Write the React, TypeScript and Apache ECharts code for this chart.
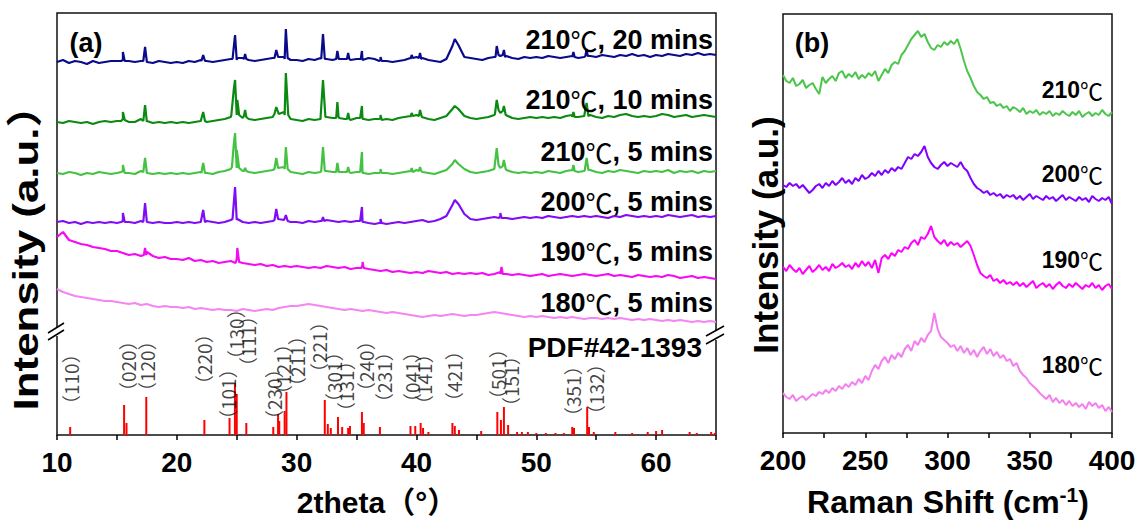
import React, { useEffect, useRef } from "react";
import * as echarts from "echarts";

const FONT = "'Liberation Sans', Arial, 'Noto Sans CJK SC', sans-serif";
const CJK = "'Noto Sans CJK SC', sans-serif";

// ---------- XRD (panel a) : sampled every 0.5 deg from 10 to 65, plus sharp peak points ----------
const twoThetaStart = 10;
const twoThetaStep = 0.5;

const xrd210m20Base = [
  373, 375, 372, 374, 373, 371, 374, 372, 373, 374,
  374, 375, 374, 373, 374, 373, 372, 374, 373, 372,
  373, 372, 374, 373, 375, 374, 373, 374, 375, 376,
  375, 377, 375, 374, 375, 376, 377, 378, 376, 375,
  375, 374, 376, 375, 377, 376, 375, 377, 376, 375,
  376, 375, 377, 376, 375, 374, 373, 374, 375, 377,
  378, 377, 375, 374, 373, 376, 389, 390, 378, 377,
  376, 375, 377, 378, 379, 379, 377, 376, 378, 377,
  378, 377, 379, 378, 377, 378, 379, 377, 378, 379,
  378, 380, 379, 378, 380, 379, 381, 379, 380, 378,
  380, 379, 381, 380, 379, 381, 380, 382, 380, 381,
  380,
];
const xrd210m20Peaks = [
  [15.35, 374], [15.5, 383], [15.65, 374],
  [17.2, 374], [17.35, 388], [17.5, 373],
  [22.05, 374], [22.2, 380], [22.35, 374],
  [24.65, 376], [24.86, 400], [25.05, 377],
  [25.6, 376], [25.7, 381], [25.8, 376],
  [28.15, 377], [28.3, 385], [28.45, 378],
  [28.95, 378], [29.1, 406], [29.25, 377],
  [32.05, 376], [32.2, 401], [32.35, 376],
  [33.3, 376], [33.4, 384], [33.5, 376],
  [34.2, 376], [34.3, 382], [34.4, 376],
  [35.35, 376], [35.45, 384], [35.55, 375],
  [36.9, 374], [37.0, 378], [37.1, 374],
  [39.5, 376], [39.6, 380], [39.7, 377],
  [40.2, 377], [40.3, 382], [40.4, 376],
  [43.2, 396],
  [46.6, 378], [46.7, 389], [46.85, 380],
  [47.2, 380], [47.3, 385], [47.4, 378],
  [53.0, 378], [53.1, 383], [53.2, 378],
  [54.1, 379], [54.2, 386], [54.3, 379],
];

const xrd210m10Base = [
  313, 312, 314, 313, 312, 313, 311, 313, 314, 313,
  314, 316, 313, 313, 316, 313, 312, 313, 312, 313,
  312, 313, 312, 313, 314, 313, 314, 315, 316, 318,
  320, 317, 316, 315, 316, 317, 318, 321, 320, 316,
  315, 314, 316, 315, 316, 318, 317, 318, 316, 315,
  317, 316, 315, 316, 317, 316, 315, 317, 318, 319,
  320, 318, 316, 315, 317, 319, 326, 326, 319, 317,
  316, 317, 318, 320, 322, 320, 317, 316, 317, 318,
  317, 318, 317, 318, 317, 319, 320, 318, 319, 320,
  318, 317, 319, 318, 320, 321, 319, 318, 319, 318,
  319, 321, 320, 318, 319, 320, 318, 319, 320, 319,
  318,
];
const xrd210m10Peaks = [
  [15.35, 314], [15.5, 323], [15.65, 315],
  [17.2, 314], [17.35, 330], [17.5, 314],
  [22.05, 314], [22.2, 323], [22.35, 314],
  [24.55, 320], [24.75, 345], [24.86, 355], [25.05, 335], [25.2, 320],
  [25.6, 319], [25.7, 325], [25.8, 318],
  [28.15, 321], [28.3, 328], [28.45, 323],
  [28.95, 323], [29.1, 362], [29.3, 320],
  [32.0, 318], [32.2, 355], [32.4, 318],
  [33.3, 317], [33.4, 333], [33.55, 317],
  [34.2, 316], [34.3, 322], [34.4, 316],
  [35.3, 317], [35.45, 329], [35.6, 316],
  [36.9, 316], [37.0, 320], [37.1, 315],
  [39.5, 318], [39.6, 322], [39.7, 319],
  [40.2, 319], [40.3, 325], [40.45, 318],
  [43.2, 329],
  [46.55, 321], [46.7, 335], [46.85, 325],
  [47.2, 324], [47.3, 329], [47.45, 320],
  [53.0, 318], [53.1, 323], [53.2, 318],
  [54.05, 319], [54.2, 332], [54.35, 319],
];

const xrd210m5Base = [
  262, 261, 263, 262, 260, 262, 261, 263, 262, 261,
  262, 264, 262, 261, 264, 262, 261, 262, 261, 262,
  261, 262, 261, 262, 263, 262, 261, 263, 264, 266,
  267, 264, 263, 262, 263, 264, 265, 267, 266, 263,
  262, 261, 263, 262, 263, 264, 263, 265, 263, 262,
  263, 262, 261, 262, 263, 262, 261, 262, 263, 264,
  265, 263, 262, 261, 263, 265, 271, 271, 266, 263,
  262, 263, 264, 266, 267, 265, 263, 262, 263, 262,
  263, 262, 264, 263, 262, 264, 265, 263, 264, 265,
  263, 262, 264, 263, 265, 264, 263, 262, 264, 263,
  264, 263, 265, 262, 264, 263, 264, 262, 264, 263,
  264,
];
const xrd210m5Peaks = [
  [15.35, 263], [15.5, 270], [15.65, 262],
  [17.2, 263], [17.35, 277], [17.5, 262],
  [22.05, 262], [22.2, 272], [22.35, 262],
  [24.6, 268], [24.75, 290], [24.86, 302], [25.0, 285], [25.2, 267],
  [25.6, 264], [25.7, 267], [25.8, 264],
  [28.15, 266], [28.3, 277], [28.45, 267],
  [28.95, 268], [29.1, 288], [29.25, 266],
  [32.05, 264], [32.2, 288], [32.35, 264],
  [33.3, 263], [33.4, 272], [33.5, 263],
  [34.2, 263], [34.3, 268], [34.4, 263],
  [35.3, 263], [35.45, 283], [35.6, 262],
  [36.9, 262], [37.0, 266], [37.1, 262],
  [39.5, 263], [39.6, 267], [39.7, 263],
  [40.2, 264], [40.3, 268], [40.4, 264],
  [43.2, 275],
  [46.55, 266], [46.7, 287], [46.85, 270],
  [47.2, 269], [47.3, 275], [47.45, 266],
  [53.0, 264], [53.1, 270], [53.2, 264],
  [54.05, 265], [54.2, 277], [54.35, 265],
];

const xrd200m5Base = [
  213, 214, 212, 213, 211, 213, 212, 213, 212, 213,
  212, 214, 213, 212, 214, 213, 212, 213, 212, 212,
  213, 212, 213, 212, 213, 214, 213, 212, 213, 215,
  215, 213, 212, 213, 212, 213, 214, 216, 215, 213,
  213, 212, 214, 213, 214, 215, 214, 213, 214, 213,
  214, 213, 212, 211, 212, 211, 212, 213, 212, 213,
  214, 215, 213, 214, 216, 219, 230, 231, 221, 216,
  215, 216, 217, 218, 219, 217, 216, 217, 218, 217,
  218, 217, 219, 218, 217, 218, 219, 218, 219, 218,
  219, 218, 217, 219, 218, 220, 219, 218, 219, 218,
  219, 218, 220, 219, 218, 219, 220, 218, 219, 218,
  219,
];
const xrd200m5Peaks = [
  [15.35, 213], [15.5, 222], [15.65, 213],
  [17.2, 213], [17.35, 232], [17.5, 213],
  [22.05, 213], [22.2, 225], [22.35, 213],
  [24.65, 216], [24.86, 248], [25.05, 216],
  [28.15, 215], [28.3, 226], [28.45, 216],
  [28.95, 215], [29.1, 220], [29.25, 214],
  [32.1, 214], [32.2, 218], [32.3, 214],
  [35.3, 214], [35.45, 228], [35.6, 213],
  [36.9, 212], [37.0, 216], [37.1, 212],
  [43.2, 235],
  [46.9, 217], [47.0, 222], [47.1, 217],
];

const xrd190m5Base = [
  198, 203, 195, 193, 191, 190, 188, 187, 186, 184,
  184, 182, 180, 181, 179, 183, 179, 177, 178, 176,
  176, 175, 177, 174, 175, 173, 174, 172, 173, 174,
  176, 172, 171, 170, 171, 169, 170, 168, 169, 168,
  169, 168, 167, 168, 167, 169, 168, 167, 168, 166,
  167, 170, 166, 165, 164, 165, 163, 164, 163, 162,
  163, 162, 164, 163, 162, 163, 161, 162, 161, 162,
  161, 162, 160, 161, 163, 161, 160, 161, 160, 159,
  160, 161, 159, 160, 161, 160, 159, 160, 161, 160,
  159, 160, 161, 159, 160, 159, 158, 160, 159, 158,
  159, 158, 160, 159, 157, 158, 159, 157, 158, 157,
  156,
];
const xrd190m5Peaks = [
  [17.25, 180], [17.35, 187], [17.45, 180],
  [24.9, 172], [25.05, 187], [25.2, 173],
  [35.4, 167], [35.5, 173], [35.6, 167],
  [47.0, 161], [47.1, 168], [47.2, 161],
];

const xrd180m5Base = [
  146, 143, 141, 139, 138, 137, 136, 135, 134, 134,
  133, 132, 131, 132, 130, 131, 129, 128, 129, 128,
  128, 127, 128, 126, 127, 126, 125, 126, 125, 125,
  124, 126, 125, 124, 125, 126, 125, 127, 128, 129,
  129, 130, 131, 130, 129, 128, 127, 126, 125, 126,
  125, 124, 125, 124, 123, 122, 123, 122, 121, 120,
  119, 118, 119, 120, 119, 120, 121, 120, 119, 120,
  120, 121, 122, 123, 122, 121, 120, 119, 118, 119,
  118, 119, 118, 117, 118, 117, 118, 117, 116, 117,
  117, 116, 117, 116, 117, 116, 115, 116, 115, 116,
  115, 114, 115, 114, 115, 114, 113, 114, 113, 114,
  113,
];
const xrd180m5Peaks: number[][] = [];

const xrdColors = ["#0a0a8c", "#0b8a12", "#44c244", "#7f0cf5", "#f50af5", "#f585f2"];
const xrdNumbers = ["210", "210", "210", "200", "190", "180"];
const xrdTimes = [", 20 mins", ", 10 mins", ", 5 mins", ", 5 mins", ", 5 mins", ", 5 mins"];
const xrdLabelY = [40, 100, 152, 202, 252, 303];

// PDF#42-1393 reference sticks: [2theta, relative height]
const pdfSticks = [
  [11.1, 8], [15.6, 30], [15.8, 12], [17.45, 38], [22.3, 15], [24.4, 17], [24.85, 52], [25.0, 41],
  [25.8, 12], [28.05, 8], [28.45, 21], [28.55, 14], [29.0, 24], [29.15, 43], [32.35, 35], [32.6, 11],
  [32.85, 7], [33.45, 18], [33.8, 8], [34.3, 7], [34.45, 9], [35.45, 23], [35.6, 12], [36.95, 8],
  [39.5, 9], [39.9, 9], [40.35, 12], [40.55, 7], [41.0, 3], [43.0, 12], [43.2, 9], [43.55, 5],
  [45.4, 4], [46.75, 23], [47.05, 15], [47.3, 28], [47.65, 10], [48.4, 3], [48.8, 3], [49.3, 3],
  [50.0, 2], [50.8, 2], [51.6, 2], [52.3, 2], [53.0, 8], [53.15, 7], [54.25, 28], [54.4, 8],
  [54.8, 3], [56.6, 3], [58.0, 2], [59.3, 3], [60.0, 4], [60.5, 5], [62.8, 3], [63.4, 2],
  [64.6, 3], [64.9, 2],
];
const pdfIndexText = [
  "（110）", "（020）", "（120）", "（220）", "（101）", "（130）", "（111）", "（230）", "（121）", "（211）", "（221）",
  "（301）", "（131）", "（240）", "（231）", "（041）", "（141）", "（421）", "（501）", "（151）", "（351）", "（132）",
];
const pdfIndexX = [11.1, 15.9, 17.43, 22.19, 24.27, 24.86, 25.94, 28.03, 28.78, 29.95, 31.79, 33.04, 34.04, 35.71, 37.21, 39.55, 40.55, 43.06, 46.73, 47.81, 52.99, 54.91];
const pdfIndexY = [21, 34, 34, 41, 6, 66, 59, 6, 31, 39, 53, 23, 14, 34, 23, 23, 21, 24, 26, 19, 9, 11];

// ---------- Raman (panel b) : every 2 cm-1 from 200 to 400 ----------
const ramanStart = 200;
const ramanStep = 2;
const raman210 = [
  358, 352, 350, 355, 347, 349, 353, 345, 348, 350,
  344, 339, 356, 350, 354, 357, 352, 360, 362, 355,
  359, 356, 361, 354, 358, 355, 360, 357, 362, 352,
  358, 364, 360, 368, 371, 369, 378, 382, 388, 394,
  398, 402, 396, 399, 391, 385, 383, 388, 386, 391,
  388, 392, 389, 394, 384, 372, 362, 355, 347, 341,
  338, 334, 336, 330, 331, 327, 329, 325, 327, 322,
  326, 324, 321, 325, 319, 322, 320, 323, 318, 321,
  319, 322, 317, 320, 318, 322, 319, 317, 321, 318,
  322, 316, 319, 321, 317, 320, 318, 323, 319, 317,
  321,
];
const raman200 = [
  248, 246, 250, 247, 249, 245, 248, 244, 240, 243,
  247, 249, 245, 250, 247, 252, 248, 251, 255, 250,
  253, 249, 255, 252, 258, 254, 256, 260, 257, 262,
  258, 263, 260, 265, 262, 266, 264, 270, 276, 274,
  279, 277, 281, 287, 276, 270, 266, 264, 268, 271,
  267, 270, 268, 266, 271, 265, 262, 255, 249, 245,
  243, 240, 242, 238, 240, 237, 239, 235, 238, 236,
  238, 234, 237, 233, 236, 239, 234, 237, 235, 233,
  237, 234, 236, 232, 235, 238, 233, 236, 234, 232,
  236, 233, 235, 231, 237, 234, 232, 235, 233, 236,
  229,
];
const raman190 = [
  166, 162, 168, 164, 161, 165, 159, 163, 167, 161,
  164, 168, 163, 166, 162, 169, 165, 167, 170, 166,
  168, 164, 170, 166, 172, 167, 171, 165, 173, 160,
  175, 178, 174, 180, 177, 183, 181, 186, 184, 190,
  193, 188, 196, 194, 199, 207, 196, 192, 189, 193,
  187, 191, 188, 190, 186, 189, 192, 187, 178, 168,
  160, 157, 155, 158, 152, 154, 150, 153, 149, 151,
  148, 151, 147, 150, 146, 149, 152, 145, 148, 150,
  146, 149, 144, 148, 151, 147, 145, 149, 146, 150,
  147, 144, 148, 146, 150, 145, 148, 143, 147, 149,
  144,
];
const raman180 = [
  40, 36, 34, 38, 32, 35, 37, 33, 36, 39,
  37, 41, 39, 43, 40, 45, 42, 47, 44, 49,
  46, 51, 48, 54, 50, 57, 53, 62, 68, 64,
  72, 76, 70, 78, 74, 80, 76, 84, 88, 82,
  92, 88, 95, 91, 98, 102, 120, 104, 96, 93,
  90, 86, 88, 82, 87, 80, 85, 78, 83, 76,
  82, 86, 79, 84, 77, 81, 75, 78, 72, 74,
  67, 70, 62, 58, 55, 50, 47, 44, 40, 37,
  34, 38, 31, 35, 30, 33, 28, 32, 27, 30,
  26, 29, 24, 31, 27, 30, 25, 28, 22, 26,
  21,
];
const ramanColors = ["#4bc64b", "#8000ff", "#ff00ff", "#f47ff0"];
const ramanNumbers = ["210", "200", "190", "180"];
const ramanLabelY = [90, 174, 260, 365];

function buildXrd(base: number[], peaks: number[][]) {
  const pts = base.map((v, i) => [twoThetaStart + twoThetaStep * i, v]);
  return pts.concat(peaks.map((p) => [p[0], p[1]])).sort((a, b) => a[0] - b[0]);
}
function buildRaman(vals: number[]) {
  return vals.map((v, i) => [ramanStart + ramanStep * i, v]);
}

export default function App() {
  const ref = useRef<HTMLDivElement>(null);
  useEffect(() => {
    document.body.style.margin = "0";
    const chart = echarts.init(ref.current!, null, { renderer: "svg" });
    const xrdSets = [
      [xrd210m20Base, xrd210m20Peaks],
      [xrd210m10Base, xrd210m10Peaks],
      [xrd210m5Base, xrd210m5Peaks],
      [xrd200m5Base, xrd200m5Peaks],
      [xrd190m5Base, xrd190m5Peaks],
      [xrd180m5Base, xrd180m5Peaks],
    ] as [number[], number[][]][];
    const ramanSets = [raman210, raman200, raman190, raman180];

    const tickLabel = {
      fontSize: 28,
      fontWeight: "bold",
      fontFamily: FONT,
      color: "#000",
      margin: 13,
    };
    const tick = { show: true, length: 5, lineStyle: { color: "#000", width: 1.5 } };

    const series: any[] = [];
    xrdSets.forEach(([b, p], i) => {
      series.push({
        type: "line",
        xAxisIndex: 0,
        yAxisIndex: 0,
        data: buildXrd(b, p),
        showSymbol: false,
        symbol: "none",
        lineStyle: { color: xrdColors[i], width: 2.2 },
        silent: true,
      });
    });
    series.push({
      type: "bar",
      xAxisIndex: 0,
      yAxisIndex: 0,
      data: pdfSticks,
      barWidth: 2,
      itemStyle: { color: "#ff0000" },
      silent: true,
    });
    series.push({
      type: "scatter",
      xAxisIndex: 0,
      yAxisIndex: 0,
      symbolSize: 0,
      data: pdfIndexText.map((t, i) => ({ name: t, value: [pdfIndexX[i], pdfIndexY[i]] })),
      label: {
        show: true,
        formatter: "{b}",
        position: "inside",
        rotate: 90,
        align: "left",
        verticalAlign: "middle",
        fontSize: 19,
        fontFamily: CJK,
        color: "#111",
      },
      silent: true,
      z: 5,
    });
    ramanSets.forEach((vals, i) => {
      series.push({
        type: "line",
        xAxisIndex: 1,
        yAxisIndex: 1,
        data: buildRaman(vals),
        showSymbol: false,
        symbol: "none",
        lineStyle: { color: ramanColors[i], width: 2 },
        silent: true,
      });
    });

    const graphic: any[] = [];
    const label = (x: number, y: number, text: string, size: number, extra: any = {}) => ({
      type: "text",
      x,
      y,
      z: 100,
      style: {
        text,
        fontSize: size,
        fontWeight: "bold",
        fontFamily: FONT,
        fill: "#000",
        align: "center",
        verticalAlign: "middle",
        ...extra,
      },
    });
    graphic.push(label(86, 43, "(a)", 27));
    graphic.push(label(812, 43, "(b)", 27));
    xrdNumbers.forEach((n, i) => {
      graphic.push({
        type: "text",
        x: 713,
        y: xrdLabelY[i],
        z: 100,
        style: {
          text: `{a|${n}}{c|℃}{a|${xrdTimes[i]}}`,
          align: "right",
          verticalAlign: "middle",
          rich: {
            a: { fontSize: 27, fontWeight: "bold", fontFamily: FONT, fill: "#000" },
            c: { fontSize: 27, fontWeight: "normal", fontFamily: CJK, fill: "#000" },
          },
        },
      });
    });
    graphic.push(label(702, 347, "PDF#42-1393", 28, { align: "right" }));
    ramanNumbers.forEach((n, i) => {
      graphic.push({
        type: "text",
        x: 1103,
        y: ramanLabelY[i],
        z: 100,
        style: {
          text: `{a|${n}}{c|℃}`,
          align: "right",
          verticalAlign: "middle",
          rich: {
            a: { fontSize: 23, fontWeight: "bold", fontFamily: FONT, fill: "#000" },
            c: { fontSize: 23, fontWeight: "normal", fontFamily: CJK, fill: "#000" },
          },
        },
      });
    });
    // axis titles
    graphic.push({ ...label(26, 247, "Intensity (a.u.）", 36), rotation: Math.PI / 2, scaleX: 1.22 });
    graphic.push({ ...label(765, 235, "Intensity (a.u.)", 35), rotation: Math.PI / 2 });
    graphic.push(label(377, 502, "2theta（°）", 30));
    graphic.push({
      type: "text",
      x: 948,
      y: 502,
      z: 100,
      style: {
        text: "{n|Raman Shift (cm}{s|-1}{n|)}",
        align: "center",
        verticalAlign: "middle",
        rich: {
          n: { fontSize: 32, fontWeight: "bold", fontFamily: FONT, fill: "#000", lineHeight: 36 },
          s: { fontSize: 21, fontWeight: "bold", fontFamily: FONT, fill: "#000", verticalAlign: "top", lineHeight: 36 },
        },
      },
    });
    // axis breaks
    graphic.push({ type: "rect", z: 100, shape: { x: 52, y: 328, width: 10, height: 8 }, style: { fill: "#fff" } });
    graphic.push({ type: "line", z: 101, shape: { x1: 48, y1: 333, x2: 64, y2: 323 }, style: { stroke: "#000", lineWidth: 1.5 } });
    graphic.push({ type: "line", z: 101, shape: { x1: 48, y1: 340, x2: 64, y2: 330 }, style: { stroke: "#000", lineWidth: 1.5 } });
    graphic.push({ type: "rect", z: 100, shape: { x: 711, y: 331, width: 10, height: 9 }, style: { fill: "#fff" } });
    graphic.push({ type: "line", z: 101, shape: { x1: 706, y1: 336, x2: 724, y2: 326 }, style: { stroke: "#000", lineWidth: 1.5 } });
    graphic.push({ type: "line", z: 101, shape: { x1: 706, y1: 344, x2: 724, y2: 334 }, style: { stroke: "#000", lineWidth: 1.5 } });

    chart.setOption({
      animation: false,
      backgroundColor: "#fff",
      grid: [
        { left: 57, top: 13, width: 659, height: 422, show: true, borderColor: "#111", borderWidth: 1.5, backgroundColor: "transparent" },
        { left: 783, top: 14, width: 329, height: 419, show: true, borderColor: "#111", borderWidth: 1.5, backgroundColor: "transparent" },
      ],
      xAxis: [
        {
          type: "value",
          gridIndex: 0,
          min: 10,
          max: 65,
          interval: 5,
          axisLine: { show: false },
          axisTick: tick,
          splitLine: { show: false },
          axisLabel: { ...tickLabel, formatter: (v: number) => (v % 10 === 0 ? String(v) : "") },
        },
        {
          type: "value",
          gridIndex: 1,
          min: 200,
          max: 400,
          interval: 25,
          axisLine: { show: false },
          axisTick: tick,
          splitLine: { show: false },
          axisLabel: { ...tickLabel, formatter: (v: number) => (v % 50 === 0 ? String(v) : "") },
        },
      ],
      yAxis: [
        { type: "value", gridIndex: 0, min: 0, max: 422, show: false },
        { type: "value", gridIndex: 1, min: 0, max: 419, show: false },
      ],
      series,
      graphic,
    });
    return () => chart.dispose();
  }, []);
  return <div ref={ref} style={{ width: 1146, height: 523 }} />;
}
